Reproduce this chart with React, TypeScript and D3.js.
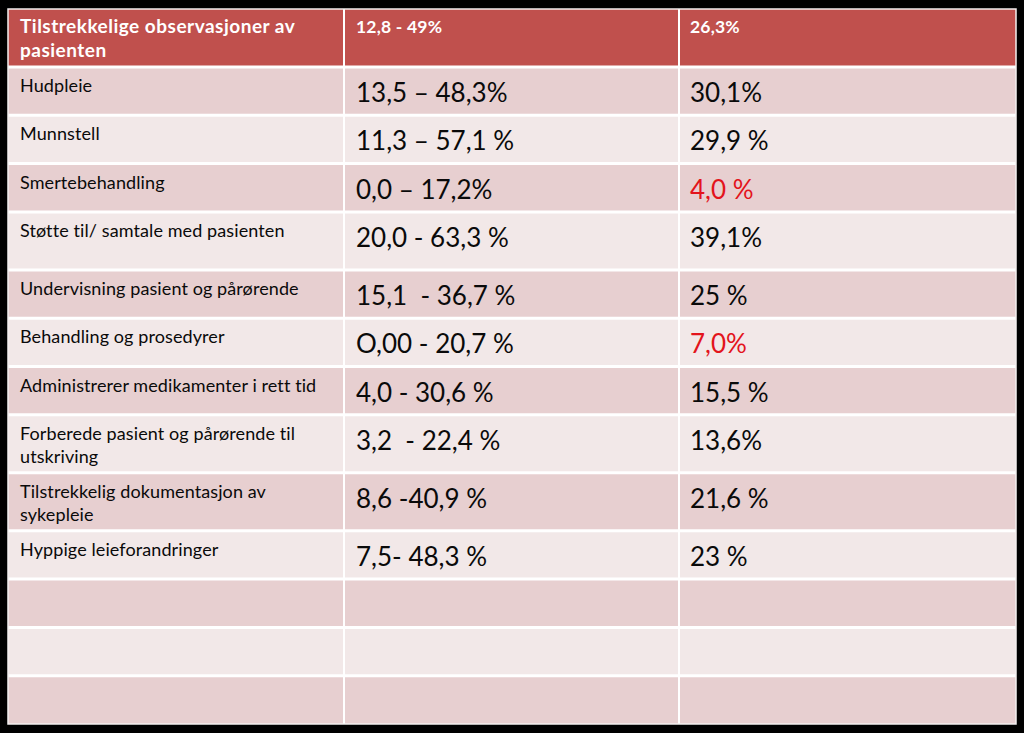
import React from "react";
import * as d3 from "d3";

const headerLabel = ["Tilstrekkelige observasjoner av", "pasienten"];
const headerRange = "12,8 - 49%";
const headerMean = "26,3%";

const categories: string[][] = [
  ["Hudpleie"],
  ["Munnstell"],
  ["Smertebehandling"],
  ["Støtte til/ samtale med pasienten", ""],
  ["Undervisning pasient og pårørende"],
  ["Behandling og prosedyrer"],
  ["Administrerer medikamenter i rett tid"],
  ["Forberede pasient og pårørende til", "utskriving"],
  ["Tilstrekkelig dokumentasjon av", "sykepleie"],
  ["Hyppige leieforandringer"],
  [""],
  [""],
  [""],
];
const rangeValues = [
  "13,5 – 48,3%",
  "11,3 – 57,1 %",
  "0,0 – 17,2%",
  "20,0 - 63,3 %",
  "15,1  - 36,7 %",
  "O,00 - 20,7 %",
  "4,0 - 30,6 %",
  "3,2  - 22,4 %",
  "8,6 -40,9 %",
  "7,5- 48,3 %",
  "",
  "",
  "",
];
const meanValues = [
  "30,1%",
  "29,9 %",
  "4,0 %",
  "39,1%",
  "25 %",
  "7,0%",
  "15,5 %",
  "13,6%",
  "21,6 %",
  "23 %",
  "",
  "",
  "",
];
const flagged = [false, false, true, false, false, true, false, false, false, false, false, false, false];

const W = 1024;
const H = 733;
const FONT = "Lato, 'Open Sans', sans-serif";

export default function App() {
  const left = 8, right = 1016, top = 9, bottom = 724;
  const colX = d3.scaleLinear().domain([0, 1, 2, 3]).range([left, 344, 679, right]);

  const rows = [{ lines: headerLabel.length }, ...categories.map((c) => ({ lines: c.length }))];
  const units = rows.map((r) => (r.lines > 1 ? 1.2 : 1));
  const cum = [0, ...d3.cumsum(units)];
  const yScale = d3.scaleLinear().domain([0, cum[cum.length - 1]]).range([top, bottom]);

  const bandDark = "#e7cfd0";
  const bandLight = "#f2e8e8";
  const red = "#c0504d";

  const texts: React.ReactNode[] = [];
  headerLabel.forEach((t, j) => {
    texts.push(
      <text key={"hl" + j} x={colX(0) + 12} y={top + 24 + j * 24} fill="#fff" fontWeight={700} fontSize={19} fontFamily={FONT} style={{ letterSpacing: "0.5px" }}>
        {t}
      </text>
    );
  });
  texts.push(
    <text key="hr" x={colX(1) + 12} y={top + 24} fill="#fff" fontWeight={700} fontSize={17.5} fontFamily={FONT} style={{ letterSpacing: "0.2px", whiteSpace: "pre" }}>
      {headerRange}
    </text>
  );
  texts.push(
    <text key="hm" x={colX(2) + 11} y={top + 24} fill="#fff" fontWeight={700} fontSize={17.5} fontFamily={FONT} style={{ letterSpacing: "0.2px" }}>
      {headerMean}
    </text>
  );

  categories.forEach((lines, k) => {
    const i = k + 1;
    const y0 = yScale(cum[i]);
    lines.forEach((t, j) => {
      texts.push(
        <text key={`c${k}-${j}`} x={colX(0) + 12} y={y0 + 25 + j * 23} fill="#0a0a0a" fontSize={18} fontFamily={FONT} style={{ letterSpacing: "0.1px" }}>
          {t}
        </text>
      );
    });
    texts.push(
      <text key={`v${k}`} x={colX(1) + 12} y={y0 + 35} fill="#0a0a0a" fontSize={26} fontFamily={FONT} style={{ whiteSpace: "pre" }}>
        {rangeValues[k]}
      </text>
    );
    texts.push(
      <text key={`m${k}`} x={colX(2) + 11} y={y0 + 35} fill={flagged[k] ? "#e3141c" : "#0a0a0a"} fontSize={26} fontFamily={FONT} style={{ whiteSpace: "pre" }}>
        {meanValues[k]}
      </text>
    );
  });

  const cells = rows.map((_, i) => {
    const y0 = yScale(cum[i]);
    const y1 = yScale(cum[i + 1]);
    const fill = i === 0 ? red : i % 2 === 1 ? bandDark : bandLight;
    return <rect key={"r" + i} x={left} y={y0} width={right - left} height={y1 - y0} fill={fill} />;
  });

  const hLines = cum.slice(1, -1).map((u, i) => (
    <line key={"h" + i} x1={left} x2={right} y1={yScale(u)} y2={yScale(u)} stroke="#fff" strokeWidth={3} />
  ));
  const vLines = [1, 2].map((c) => (
    <line key={"v" + c} x1={colX(c)} x2={colX(c)} y1={top} y2={bottom} stroke="#fff" strokeWidth={2} />
  ));

  return (
    <div style={{ position: "absolute", left: 0, top: 0 }}>
      <svg width={W} height={H} style={{ display: "block", background: "#000" }}>
        <rect x={0} y={0} width={W} height={H} fill="#000" />
        {cells}
        {hLines}
        {vLines}
        <rect x={left} y={top} width={right - left} height={bottom - top} fill="none" stroke="#f4f0f0" strokeWidth={1.5} />
        {texts}
      </svg>
    </div>
  );
}
